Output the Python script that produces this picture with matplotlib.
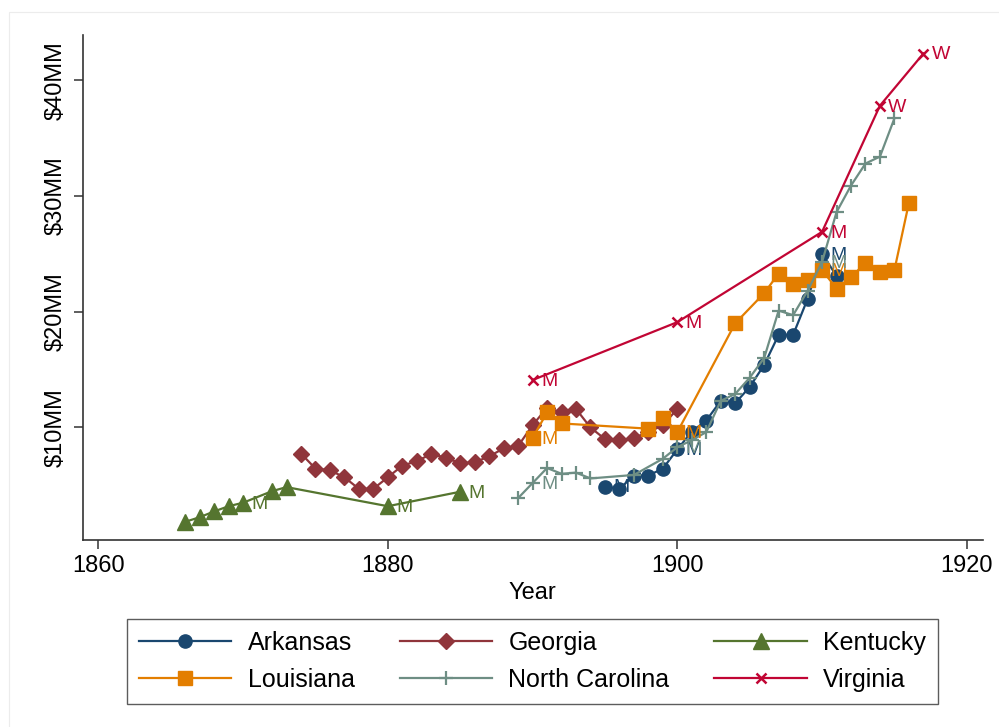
import matplotlib
matplotlib.use("Agg")
import matplotlib.pyplot as plt
from matplotlib.patches import Rectangle

plt.rcParams['font.family'] = ['Liberation Sans', 'DejaVu Sans']

# values in $MM
ark_years = [1895, 1896, 1897, 1898, 1899, 1900, 1901, 1902, 1903, 1904, 1905, 1906, 1907, 1908, 1909, 1910, 1911]
ark_vals = [4.9, 4.7, 5.85, 5.85, 6.45, 8.1, 9.65, 10.6, 12.3, 12.1, 13.5, 15.4, 18.0, 18.0, 21.1, 25.0, 23.1]
ark_marks = {1895: "M", 1900: "M", 1910: "M"}

geo_years = list(range(1874, 1901))
geo_vals = [7.75, 6.45, 6.3, 5.7, 4.7, 4.7, 5.7, 6.7, 7.1, 7.7, 7.4, 6.9, 7.0, 7.5, 8.2, 8.4,
            10.2, 11.7, 11.3, 11.6, 10.0, 9.0, 8.9, 9.1, 9.6, 10.2, 11.6]
geo_marks = {}

ken_years = [1866, 1867, 1868, 1869, 1870, 1872, 1873, 1880, 1885]
ken_vals = [1.85, 2.25, 2.75, 3.2, 3.5, 4.5, 4.85, 3.2, 4.45]
ken_marks = {1870: "M", 1880: "M", 1885: "M"}

lou_years = [1890, 1891, 1892, 1898, 1899, 1900, 1904, 1906, 1907, 1908, 1909, 1910, 1911, 1912, 1913, 1914, 1915, 1916]
lou_vals = [9.1, 11.3, 10.35, 9.9, 10.8, 9.6, 19.0, 21.6, 23.3, 22.4, 22.7, 23.6, 22.0, 23.0, 24.2, 23.4, 23.6, 29.4]
lou_marks = {1890: "M", 1900: "M", 1910: "M"}

nc_years = [1889, 1890, 1891, 1892, 1893, 1894, 1897, 1899, 1900, 1901, 1902, 1903, 1904, 1905,
            1906, 1907, 1908, 1909, 1910, 1911, 1912, 1913, 1914, 1915]
nc_vals = [3.9, 5.2, 6.5, 6.0, 6.1, 5.6, 5.9, 7.3, 8.3, 8.9, 9.6, 12.3, 12.9, 14.3,
           16.0, 20.1, 19.7, 21.8, 24.3, 28.6, 30.9, 32.8, 33.4, 36.7]
nc_marks = {1890: "M", 1900: "M", 1910: "M"}

va_years = [1890, 1900, 1910, 1914, 1917]
va_vals = [14.1, 19.1, 26.9, 37.8, 42.3]
va_marks = {1890: "M", 1900: "M", 1910: "M", 1914: "W", 1917: "W"}

fig = plt.figure(figsize=(9.99, 7.27), dpi=100)
# faint graph-region frame, only its top-left corner shows in the picture
fig.patches.append(Rectangle((0.009, -0.2), 1.5, 1.2 - 12 / 727, transform=fig.transFigure,
                             fill=False, edgecolor='#ececec', linewidth=0.8))
ax = fig.add_axes([0.0828, 0.2572, 0.9009, 0.6946])

series = [
    ("Arkansas", ark_years, ark_vals, ark_marks, '#1a476f', 'o', 9.5, 1.0),
    ("Georgia", geo_years, geo_vals, geo_marks, '#90353b', 'D', 8.3, 1.0),
    ("Kentucky", ken_years, ken_vals, ken_marks, '#55752f', '^', 11, 1.0),
    ("Louisiana", lou_years, lou_vals, lou_marks, '#e37e00', 's', 10, 1.0),
    ("North Carolina", nc_years, nc_vals, nc_marks, '#6e8e84', '+', 10, 1.6),
    ("Virginia", va_years, va_vals, va_marks, '#c10534', 'x', 6.5, 1.8),
]

handles = {}
for name, yrs, vals, marks, col, mk, ms, mew in series:
    ln, = ax.plot(yrs, vals, color=col, marker=mk, markersize=ms, markeredgewidth=mew,
                  markeredgecolor=col, markerfacecolor=col, linewidth=1.6, label=name,
                  clip_on=False)
    handles[name] = ln
    for yr, lab in marks.items():
        v = vals[yrs.index(yr)]
        ax.annotate(lab, (yr, v), xytext=(6, -1), textcoords='offset points',
                    ha='left', va='center', color=col, fontsize=14)

ax.set_xlim(1858.92, 1921.1)
ax.set_ylim(0.28, 43.9)
ax.set_xticks([1860, 1880, 1900, 1920])
ax.set_yticks([10, 20, 30, 40])
ax.set_yticklabels(["$10MM", "$20MM", "$30MM", "$40MM"], rotation=90, va='center')
ax.tick_params(axis='x', labelsize=17, length=6.5, width=1.1, pad=4, color='#333333')
ax.tick_params(axis='y', labelsize=17, length=6.5, width=1.1, pad=5, color='#333333')
ax.set_xlabel("Year", fontsize=17, labelpad=4)
for s in ['top', 'right']:
    ax.spines[s].set_visible(False)
for s in ['left', 'bottom']:
    ax.spines[s].set_linewidth(1.2)
    ax.spines[s].set_color('#333333')

order = ["Arkansas", "Louisiana", "Georgia", "North Carolina", "Kentucky", "Virginia"]
leg = fig.legend([handles[n] for n in order], order, ncol=3, loc='center',
                 bbox_to_anchor=(0.533, 0.0901), fontsize=18, frameon=True, fancybox=False,
                 edgecolor='#333333', handlelength=3.7, handletextpad=0.65,
                 columnspacing=1.8, borderpad=0.48, labelspacing=0.5)
leg.get_frame().set_linewidth(1.0)

fig.savefig("out.png", dpi=100, facecolor='white')
